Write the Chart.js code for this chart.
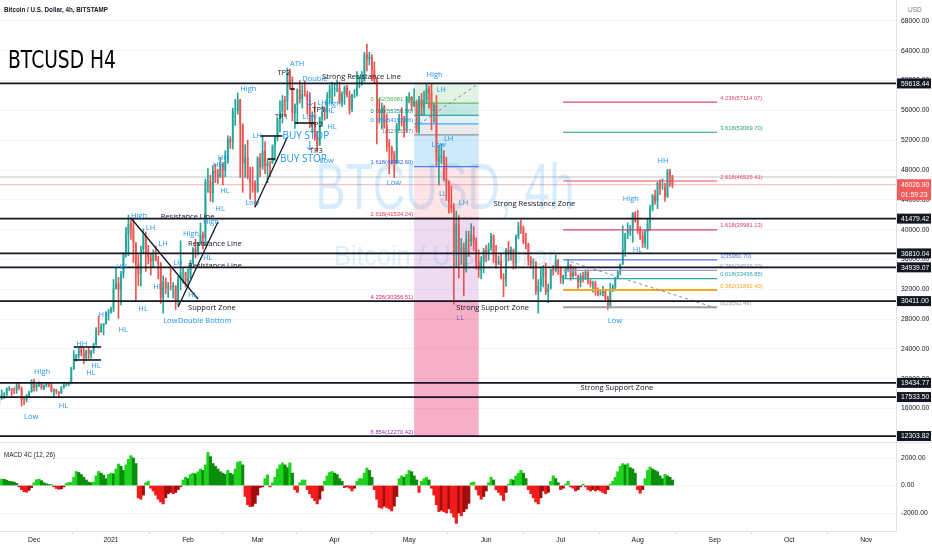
<!DOCTYPE html>
<html>
<head>
<meta charset="utf-8">
<title>BTCUSD H4</title>
<script src="https://cdn.jsdelivr.net/npm/chart.js"></script>
<style>
  html, body { margin: 0; padding: 0; background: #fff; overflow: hidden; }
  #wrap { position: relative; width: 932px; height: 550px; }
</style>
</head>
<body>
<div id="wrap"><canvas id="chart" width="932" height="550"></canvas></div>
<script>
// ---- daily candles, 2020-11-17 .. 2021-08-15 ----
const startDate = '2020-11-17';
const firstOpen = 16700;
const closes = [
  17650, 17800, 17820, 18680, 18700, 18420, 18370, 19160, 18730, 17150, 17140, 17720, 18180, 19700, // Nov
  18780, 19220, 19440, 18700, 19150, 19360, 19170, 18320, 18550, 18250, 18030, 18800, 19170, 19270, 19430, 21360,
  22800, 23130, 23860, 23480, 22750, 23820, 23250, 23720, 24660, 26440, 26250, 27030, 27360, 28840, 29000, // Dec
  29370, 32130, 32780, 31970, 33990, 36820, 39370, 40800, 40250, 38240, 35540, 34010, 37390, 39180, 36820, 36170,
  35790, 36630, 35910, 35470, 30850, 33010, 32100, 32290, 32260, 32470, 30360, 33370, 34270, 34290, 33110, // Jan
  33520, 35510, 37470, 36930, 38140, 39270, 38830, 46400, 46480, 44920, 47910, 47500, 47100, 48720,
  47950, 49170, 52150, 51680, 55890, 55920, 57410, 54090, 48890, 49680, 47070, 46340, 46190, 45140, // Feb
  49630, 48380, 50540, 48560, 48930, 48910, 51210, 52390, 54880, 55850, 57330, 57230, 61150, 59030, 55630, 56800,
  58820, 57530, 58230, 58200, 57350, 54100, 54340, 52300, 51310, 55030, 55820, 55780, 57620, 58790, 58920, // Mar
  58990, 59020, 57100, 58200, 59120, 58000, 56100, 58100, 58100, 59800, 59800, 59950, 63500, 62900, 63200,
  61400, 60000, 56200, 55700, 56500, 53800, 51700, 51100, 50100, 49100, 54000, 55000, 54800, 53500, 57700, // Apr
  57800, 56600, 57200, 53200, 57500, 56400, 57400, 58900, 58300, 55900, 56700, 49200, 49700, 49900, 46800, 46400,
  43500, 42900, 37000, 40700, 37300, 37500, 34700, 38700, 38400, 39300, 38400, 35700, 34600, 35700, 37300, // May
  36700, 37600, 39200, 36900, 35500, 35800, 33600, 33400, 37300, 36700, 37300, 35500, 39100, 40500, 40200,
  38300, 38100, 35800, 35500, 35600, 31700, 32500, 33700, 34700, 31600, 32200, 34700, 34500, 35900, 35000, // Jun
  33500, 33800, 34700, 35300, 33700, 34200, 33900, 32900, 33800, 33500, 34300, 33100, 32700, 32800, 31900, 31400,
  31500, 31800, 30800, 29800, 32100, 32300, 33600, 34300, 35400, 37300, 39400, 40000, 40000, 42200, 41500, // Jul
  39900, 39200, 38200, 39700, 40900, 42800, 44600, 43800, 46300, 45600, 45600, 44400, 47800, 47100, 46030  // Aug
];
const highs = [
  17850, 18480, 18130, 18800, 18950, 18700, 18770, 19420, 19480, 18900, 17450, 17870, 18330, 19860,
  19920, 19310, 19580, 19520, 19180, 19410, 19420, 19290, 18630, 18560, 18280, 18950, 19410, 19340, 19560, 21530,
  23770, 23270, 24150, 24290, 24100, 23840, 24100, 23800, 24770, 26850, 28400, 27390, 27400, 28990, 29300,
  29600, 33300, 34800, 33600, 34400, 36900, 40300, 41950, 41300, 41300, 38250, 36600, 37800, 40100, 39700, 37900,
  36800, 37300, 37800, 36400, 35600, 33800, 33500, 32900, 34800, 32900, 32500, 33700, 38500, 34800, 34300,
  34700, 35900, 37600, 38700, 38300, 40900, 39700, 46800, 48200, 47300, 48600, 48800, 48100, 49700,
  49000, 50600, 52600, 52500, 56300, 57500, 58350, 57500, 54200, 51400, 52000, 48400, 48400, 46600,
  49800, 50200, 52600, 51800, 49400, 49200, 51400, 52500, 54900, 57300, 58000, 57900, 61700, 61500, 60500, 56900,
  58900, 60000, 59400, 59900, 58600, 58400, 55800, 57100, 53200, 55100, 56600, 56500, 58400, 59400, 59800,
  59500, 60100, 59800, 58500, 59300, 59400, 58600, 58200, 58800, 61200, 60600, 61200, 63800, 64900, 63800,
  63500, 62500, 60400, 57500, 57000, 56700, 55500, 52100, 51200, 50500, 54300, 55500, 56400, 55200, 57900,
  58400, 57900, 58900, 57400, 57900, 58300, 58600, 59500, 59300, 59600, 57000, 58000, 51300, 51500, 50600, 49700,
  46600, 45800, 43500, 42500, 41900, 38800, 38200, 39800, 39800, 40800, 40400, 38900, 37300, 36400, 37500,
  37900, 38200, 39500, 39300, 37900, 36500, 36800, 34100, 37500, 38400, 37700, 37400, 39300, 41000, 41300,
  40500, 39500, 38200, 36400, 36100, 35700, 33300, 34800, 35200, 35500, 32700, 34700, 35200, 36600, 36000,
  35000, 33900, 35000, 35900, 35300, 35000, 35000, 33900, 34100, 34300, 34600, 34600, 33300, 33100, 33100, 32200,
  31900, 32400, 31900, 31100, 32800, 32600, 33600, 34500, 35400, 40500, 39500, 40900, 40600, 42300, 42400,
  42600, 40400, 39800, 39900, 41400, 43300, 44700, 45300, 46400, 46700, 46800, 46200, 48100, 48100, 47300
];
const lows = [
  16550, 17220, 17350, 17750, 18400, 17640, 18000, 18020, 18570, 16330, 16500, 16870, 17530, 18180,
  18330, 18340, 18930, 18580, 18520, 18900, 18900, 18200, 17650, 17940, 17570, 18010, 18720, 19000, 19050, 19290,
  21230, 22350, 22750, 23060, 22000, 22360, 22700, 22740, 23430, 24500, 25850, 26200, 25880, 27320, 27850,
  28800, 29000, 32000, 28100, 29900, 33500, 36300, 36500, 38700, 35600, 30400, 32500, 32400, 36800, 34400, 35400,
  33900, 34900, 35800, 33400, 30100, 28800, 31400, 30900, 31900, 30800, 29300, 29900, 31900, 32800, 32300,
  32300, 33400, 35400, 36200, 36600, 38100, 37400, 37900, 45000, 43800, 43700, 46300, 46200, 47000,
  46000, 47100, 48900, 50900, 50800, 54000, 55500, 47000, 45000, 47000, 46800, 44100, 45000, 43000,
  45000, 47100, 48100, 47500, 46300, 47100, 48900, 49300, 51900, 53100, 54300, 55200, 56100, 58900, 54600, 53600,
  54200, 57000, 56300, 57900, 55500, 53700, 53000, 52000, 50400, 51300, 53900, 54700, 54900, 57000, 56900,
  57900, 58500, 56900, 56500, 56800, 57800, 55500, 55800, 57700, 57900, 59000, 59400, 59900, 61300, 62100,
  60000, 59600, 51500, 54300, 53500, 53600, 50500, 47500, 48800, 47000, 48800, 53300, 53900, 52400, 53100,
  57000, 56000, 56500, 53000, 52900, 55300, 55400, 56900, 56300, 53400, 54400, 48600, 46000, 48900, 46600, 43900,
  42200, 42300, 30000, 35000, 33500, 35300, 31100, 34300, 36400, 37800, 37200, 34700, 33600, 33400, 34200,
  35700, 35900, 37200, 35600, 34800, 35300, 33400, 31000, 32400, 35800, 35900, 34700, 34800, 38800, 39500,
  38100, 37400, 35200, 34800, 33400, 31300, 28800, 31700, 32300, 31300, 30200, 32000, 33900, 34300, 34000,
  32800, 32700, 33400, 34400, 33200, 33600, 33800, 32100, 32300, 33000, 33300, 32700, 32300, 31600, 31200, 31100,
  31200, 31100, 30500, 29300, 29500, 31700, 32000, 33400, 33900, 35300, 36400, 38800, 39200, 38300, 41000,
  39500, 38700, 37600, 37600, 37400, 39900, 42500, 43400, 42800, 44700, 45400, 43800, 44300, 45800, 45600
];
// MACD 4C (12, 26), one value per day
const macdHist = [
  400, 460, 450, 380, 300, 280, 250, 150, -100, -300,
  -450, -490, -350, -150, 200, 420, 460, 350, 200, 120,
  80, 50, -100, -220, -270, -250, -100, 150, 220, 220,
  600, 1020, 950, 800, 600, 400, 250, 200, 250, 700,
  1020, 900, 750, 500, 800, 900, 850, 1200, 1560, 1400,
  1100, 1500, 1900, 2170, 2000, 1600, -900, -1000, -700, 200,
  300, -200, -400, -700, -1000, -1200, -1340, -900, -600, -500,
  -600, -500, -300, -100, 400, 600, 500, 800, 900, 850,
  1000, 1200, 1100, 1500, 2400, 2100, 1600, 1400, 1200, 1000,
  900, 800, 1100, 900, 800, 1200, 1700, 1750, 1500, -800,
  -1400, -1540, -1500, -1300, -700, -150, -100, 500, 780, -100,
  200, 600, 1200, 1500, 1640, 1500, 1300, 1640, 900, -300,
  -500, 200, 400, 400, -300, -600, -900, -1100, -1340, -1000,
  -400, 300, 700, 950, 1020, 900, 800, 500, 300, -150,
  -100, -200, -400, -200, 300, 500, 500, 900, 1270, 1100,
  600, -300, -1000, -1600, -1660, -1500, -1600, -1700, -1850, -1500,
  -800, 500, 700, 600, 800, 1100, 1000, 700, 400, -500,
  300, 500, 600, 400, -200, -700, -1400, -1900, -1800, -1900,
  -2000, -1700, -2000, -2300, -2750, -2000, -2200, -1900, -1700, -1300,
  200, 250, -300, -700, -1000, -800, -400, 200, 600, 400,
  -300, -500, -700, -1100, -500, 100, 450, 400, 700, 900,
  1100, 900, 500, -300, -600, -900, -1200, -1340, -900, -400,
  -600, -500, 300, 700, 500, 200, -300, -200, 100, 300,
  -100, -200, -400, -300, -100, 100, -100, -300, -400, -300,
  -400, -300, -400, -500, -600, -300, 100, 300, 600, 1000,
  1400, 1590, 1500, 1590, 1300, 1200, 900, -300, -560, -300,
  500, 1100, 1340, 1200, 1100, 1000, 700, 500, 800, 700,
  600, 400
];

// ---- axes ----
const monthStarts = ['2020-12-01', '2021-01-01', '2021-02-01', '2021-03-01', '2021-04-01', '2021-05-01',
                     '2021-06-01', '2021-07-01', '2021-08-01', '2021-09-01', '2021-10-01', '2021-11-01'];
const monthNames = ['Dec', '2021', 'Feb', 'Mar', 'Apr', 'May', 'Jun', 'Jul', 'Aug', 'Sep', 'Oct', 'Nov'];
const priceTicks = [16000, 20000, 24000, 28000, 32000, 36000, 40000, 44000, 48000, 52000, 56000, 60000, 64000, 68000];
const macdTicks = [-2000, 0, 2000];

// ---- drawings ----
const levels = [59618.44, 41479.42, 36810.04, 34939.07, 30411.00, 19434.77, 17533.50, 12303.82];
const lastPrice = 46026.90;
const countdown = '01:59:23';
const dayHigh = 47065;

const waveLabels = [
  ['Low', '2020-11-27', 14860], ['High', '2020-12-01', 20900], ['HL', '2020-12-11', 16330],
  ['HH', '2020-12-18', 24650], ['HL', '2020-12-22', 20760], ['HL', '2020-12-24', 21700],
  ['HH', '2020-12-27', 28550], ['HH', '2021-01-03', 34990], ['HL', '2021-01-04', 26530],
  ['High', '2021-01-09', 41830], ['LH', '2021-01-15', 40220], ['HL', '2021-01-12', 29350],
  ['HL', '2021-01-18', 32300], ['LH', '2021-01-20', 38070], ['Low', '2021-01-22', 27740],
  ['Double Bottom', '2021-01-28', 27740], ['LH', '2021-01-26', 35520], ['High', '2021-01-30', 39420],
  ['HL', '2021-02-01', 31230], ['HL', '2021-02-07', 36200], ['High', '2021-02-07', 41030],
  ['HH', '2021-02-11', 48680], ['HH', '2021-02-13', 49620], ['HL', '2021-02-12', 42770],
  ['HL', '2021-02-14', 45190], ['High', '2021-02-22', 58870], ['Low', '2021-02-24', 43580],
  ['LH', '2021-02-27', 52570], ['ATH', '2021-03-14', 62230], ['Double', '2021-03-19', 60220],
  ['Low', '2021-03-19', 55120], ['LH', '2021-03-25', 57000], ['High', '2021-03-28', 56860],
  ['HL', '2021-03-28', 55920], ['HL', '2021-03-29', 53780], ['Low', '2021-03-26', 49210],
  ['Low', '2021-04-22', 46260], ['High', '2021-05-08', 60750], ['LH', '2021-05-12', 58740],
  ['Low', '2021-05-10', 51360], ['LH', '2021-05-15', 52160], ['LL', '2021-05-13', 44780],
  ['LH', '2021-05-21', 43580], ['High', '2021-07-26', 44110], ['HL', '2021-07-30', 37270],
  ['Low', '2021-07-20', 27740], ['HH', '2021-08-09', 49210]
];
const purpleLabels = [['LL', '2021-05-20', 28140]];
const notes = [
  ['Strong Resistance Line', '2021-03-27', 60490], ['Resistance Line', '2021-01-21', 41700],
  ['Resistance Line', '2021-02-01', 38070], ['Resistance Line', '2021-02-01', 35120],
  ['Support Zone', '2021-02-01', 29480], ['Strong Resistance Zone', '2021-06-04', 43440],
  ['Strong Support Zone', '2021-05-20', 29480], ['Strong Support Zone', '2021-07-09', 18750],
  ['TP2', '2021-03-09', 61020], ['TP1', '2021-03-08', 55120], ['TP1', '2021-03-23', 56060],
  ['TP2', '2021-03-22', 54040], ['TP3', '2021-03-22', 50550]
];
const buyStops = [['BUY STOP', '2021-03-11', 52570], ['BUY STOP', '2021-03-10', 49480]];
const segments = [
  ['2021-03-02', '2021-03-11', 52570], ['2021-03-05', '2021-03-08', 49480],
  ['2021-03-16', '2021-03-24', 54310], ['2021-03-14', '2021-03-16', 58870],
  ['2020-12-17', '2020-12-28', 24250], ['2020-12-17', '2020-12-28', 22510]
];
const trendLines = [
  [['2021-01-09', 41560], ['2021-02-05', 30690]],
  [['2021-01-28', 29620], ['2021-02-13', 41030]],
  [['2021-02-28', 43040], ['2021-03-13', 52430]]
];
const arrows = [['2021-03-22', 58340, 56590], ['2021-03-22', 51900, 50690]];

const fibAFrom = '2021-05-03', fibATo = '2021-05-29', fibATop = 59618.44;
const fibARatios = ['0.382', '0.618', '0.786', '1', '1.618', '2.618', '4.236', '6.854'];
const fibAPrices = [56981.34, 55350.56, 54192.86, 52715.37, 48442.60, 41534.24, 30356.51, 12270.42];
const fibATrend = [['2021-05-03', 53700], ['2021-05-29', 59620]];

const fibBFrom = '2021-07-02', fibBTo = '2021-09-02';
const fibBRatios = ['4.236', '3.618', '2.618', '1.618', '1', '0.786', '0.618', '0.382', '0'];
const fibBPrices = [57114.07, 53069.70, 46525.41, 39981.13, 35950.70, 34526.20, 33436.85, 31892.40, 29592.48];
const fibBTrend = [['2021-07-05', 35700], ['2021-09-01', 29530]];

// ---- styles ----
const SANS = '"Liberation Sans", Arial, sans-serif';
const LBL = '"Open Sans", "Liberation Sans", sans-serif';
const INK = '#131722';
const BLUE = '#2196f3';
const GRID = '#f3f5f9';
const fibALineColors = ['#4caf50', '#089981', '#2196f3', '#787b86', '#2962ff', '#f23645', '#e91e63', '#9c27b0'];
const fibAZoneColors = ['rgba(76,175,80,0.16)', 'rgba(8,153,129,0.24)', 'rgba(33,150,243,0.14)', 'rgba(120,123,134,0.16)',
                        'rgba(33,150,243,0.22)', 'rgba(242,54,69,0.13)', 'rgba(156,39,176,0.17)', 'rgba(233,30,99,0.36)'];
const fibBColors = ['#e0476b', '#1e9e7c', '#f04a55', '#d6416b', '#4f74e3', '#a597cc', '#2ba3b0', '#f5a623', '#9e9e9e'];

const dayOf = s => (Date.parse(s) - Date.parse('2020-12-01')) / 864e5;
const day0 = dayOf(startDate);
const days = closes.map((_, i) => day0 + i);
const opens = closes.map((c, i) => i ? closes[i - 1] : firstOpen);
const candleCol = closes.map((c, i) => c >= opens[i] ? '#26a69a' : '#ef5350');
const macdCol = macdHist.map((v, i) => {
  const p = i ? macdHist[i - 1] : v;
  return v >= 0 ? (v >= p ? '#1fd41f' : '#0c8c0c') : (v < p ? '#f21b1b' : '#a30d0d');
});

function text(ctx, s, px, py, font, color, align = 'left', baseline = 'middle', fitW) {
  ctx.save();
  ctx.font = font; ctx.fillStyle = color; ctx.textAlign = align; ctx.textBaseline = baseline;
  if (fitW) {
    const k = fitW / ctx.measureText(s).width;
    ctx.translate(px, py); ctx.scale(k, 1); ctx.fillText(s, 0, 0);
  } else {
    ctx.fillText(s, px, py);
  }
  ctx.restore();
}
function line(ctx, x1, y1, x2, y2, color, w, dash) {
  ctx.save();
  ctx.strokeStyle = color; ctx.lineWidth = w; ctx.setLineDash(dash || []);
  ctx.beginPath(); ctx.moveTo(x1, y1); ctx.lineTo(x2, y2); ctx.stroke();
  ctx.restore();
}

const overlay = {
  id: 'overlay',
  beforeDatasetsDraw(chart) {
    const { ctx, chartArea: a, scales: { x, y } } = chart;
    const X = d => x.getPixelForValue(dayOf(d)), Y = p => y.getPixelForValue(p);
    ctx.save();
    ctx.beginPath(); ctx.rect(a.left, a.top, a.right - a.left, y.bottom - a.top); ctx.clip();
    const cx = (a.left + a.right) / 2 - 3;
    text(ctx, 'BTCUSD, 4h', cx, 191, '64px ' + SANS, 'rgba(33,150,243,0.18)', 'center', 'middle', 259);
    text(ctx, 'Bitcoin / U.S. Dollar', cx, 257, '28px ' + SANS, 'rgba(33,150,243,0.15)', 'center', 'middle', 222);
    // fib retracement box (May drop)
    const l = X(fibAFrom), r = X(fibATo);
    let prev = fibATop;
    fibAPrices.forEach((p, i) => {
      ctx.fillStyle = fibAZoneColors[i];
      ctx.fillRect(l, Y(prev), r - l, Y(p) - Y(prev));
      prev = p;
    });
    ctx.restore();
  },
  afterDatasetsDraw(chart) {
    const { ctx, chartArea: a, scales: { x, y } } = chart;
    const X = d => x.getPixelForValue(dayOf(d)), Y = p => y.getPixelForValue(p);
    ctx.save();
    ctx.beginPath(); ctx.rect(a.left, a.top, a.right - a.left, y.bottom - a.top); ctx.clip();

    line(ctx, a.left, Y(dayHigh), a.right, Y(dayHigh), 'rgba(120,123,134,0.45)', 1);
    line(ctx, a.left, Y(lastPrice), a.right, Y(lastPrice), 'rgba(239,83,80,0.45)', 1);

    // fib A
    const al = X(fibAFrom), ar = X(fibATo);
    fibAPrices.forEach((p, i) => {
      line(ctx, al, Y(p), ar, Y(p), fibALineColors[i], 1);
      text(ctx, fibARatios[i] + '(' + p.toFixed(2) + ')', al - 1, Y(p) - 1, '5.8px ' + SANS, fibALineColors[i], 'right', 'bottom');
    });
    line(ctx, X(fibATrend[0][0]), Y(fibATrend[0][1]), X(fibATrend[1][0]), Y(fibATrend[1][1]), 'rgba(120,123,134,0.85)', 1, [3, 3]);

    // fib B
    const bl = X(fibBFrom), br = X(fibBTo);
    fibBPrices.forEach((p, i) => {
      const w = fibBRatios[i] === '0.382' || fibBRatios[i] === '0' ? 2 : 1.2;
      line(ctx, bl, Y(p), br, Y(p), fibBColors[i], w);
      text(ctx, fibBRatios[i] + '(' + p.toFixed(2) + ')', br + 3, Y(p) - 1, '5.8px ' + SANS, fibBColors[i], 'left', 'bottom');
    });
    line(ctx, X(fibBTrend[0][0]), Y(fibBTrend[0][1]), X(fibBTrend[1][0]), Y(fibBTrend[1][1]), 'rgba(120,123,134,0.85)', 1, [3, 3]);

    // support / resistance levels
    levels.forEach(p => line(ctx, a.left, Y(p), a.right, Y(p), INK, 1.7));

    segments.forEach(([d1, d2, p]) => line(ctx, X(d1), Y(p), X(d2), Y(p), INK, 1.6));
    trendLines.forEach(([[d1, p1], [d2, p2]]) => line(ctx, X(d1), Y(p1), X(d2), Y(p2), INK, 1.3));
    arrows.forEach(([d, p1, p2]) => {
      const ax = X(d), y1 = Y(p1), y2 = Y(p2);
      line(ctx, ax, y1, ax, y2, BLUE, 1);
      line(ctx, ax - 3, y2 - 3, ax, y2, BLUE, 1);
      line(ctx, ax + 3, y2 - 3, ax, y2, BLUE, 1);
    });

    waveLabels.forEach(([s, d, p]) => text(ctx, s, X(d), Y(p), '7.5px ' + LBL, BLUE));
    purpleLabels.forEach(([s, d, p]) => text(ctx, s, X(d), Y(p), '7.5px ' + LBL, '#7e57c2'));
    notes.forEach(([s, d, p]) => text(ctx, s, X(d), Y(p), '7.5px ' + LBL, INK));
    buyStops.forEach(([s, d, p]) => text(ctx, s, X(d), Y(p), '10px ' + LBL, BLUE));

    text(ctx, 'BTCUSD H4', 8, 61, '25px "DejaVu Sans", ' + SANS, '#000', 'left', 'middle', 108);
    ctx.restore();
  },
  afterDraw(chart) {
    const { ctx, chartArea: a, scales: { y, y2 } } = chart;
    const Y = p => y.getPixelForValue(p);
    const W = chart.width;
    line(ctx, 0, y.bottom + 0.5, W, y.bottom + 0.5, '#e0e3eb', 1);

    // price-scale labels of the drawn levels
    levels.forEach(p => {
      const py = Y(p);
      ctx.fillStyle = INK;
      ctx.fillRect(a.right + 1, py - 5, W - a.right - 2, 10);
      text(ctx, p.toFixed(2), a.right + 5, py + 0.5, '6.8px ' + SANS, '#fff');
    });
    const lp = Y(lastPrice);
    ctx.fillStyle = '#f05b5b';
    ctx.fillRect(a.right + 1, lp - 5.5, W - a.right - 2, 21);
    text(ctx, lastPrice.toFixed(2), a.right + 5, lp + 0.5, '6.8px ' + SANS, '#fff');
    text(ctx, countdown, a.right + 5, lp + 10, '6.8px ' + SANS, '#fff');

    text(ctx, 'Bitcoin / U.S. Dollar, 4h, BITSTAMP', 4, 10, 'bold 7.5px ' + SANS, INK, 'left', 'middle', 104);
    text(ctx, 'USD', 908, 10, '6.5px ' + SANS, '#787b86');
    text(ctx, 'MACD 4C (12, 26)', 4, y2.top + 13, '7px ' + SANS, INK, 'left', 'middle', 51);
  }
};

const tickFont = { family: SANS, size: 6.8 };
new Chart(document.getElementById('chart'), {
  type: 'bar',
  data: {
    datasets: [
      { label: 'wick', data: days.map((d, i) => ({ x: d, y: [lows[i], highs[i]] })), backgroundColor: candleCol,
        barThickness: 1, grouped: false, yAxisID: 'y', order: 2 },
      { label: 'BTCUSD', data: days.map((d, i) => ({ x: d, y: [opens[i], closes[i]] })), backgroundColor: candleCol,
        barPercentage: 0.8, categoryPercentage: 0.9, grouped: false, yAxisID: 'y', order: 1 },
      { label: 'MACD 4C (12, 26)', data: days.map((d, i) => ({ x: d, y: macdHist[i] })), backgroundColor: macdCol,
        barPercentage: 1, categoryPercentage: 1, grouped: false, yAxisID: 'y2', order: 3 }
    ]
  },
  options: {
    responsive: false,
    animation: false,
    layout: { padding: 0 },
    plugins: { legend: { display: false }, tooltip: { enabled: false } },
    scales: {
      x: {
        type: 'linear', min: -13.7, max: 347.0, offset: false,
        grid: { color: '#d6d9e0', drawOnChartArea: false, drawTicks: true, tickLength: 3 },
        border: { color: '#e0e3eb' },
        ticks: { font: tickFont, color: INK, padding: 2, maxRotation: 0, autoSkip: false,
                 callback: (v, i) => monthNames[i] },
        afterBuildTicks: s => { s.ticks = monthStarts.map(m => ({ value: dayOf(m) })); },
        afterFit: s => { s.height = 19; s.paddingLeft = 0; s.paddingRight = 0; }
      },
      y: {
        position: 'right', stack: 'pane', stackWeight: 442, min: 11502, max: 70818,
        grid: { color: GRID, drawTicks: false },
        border: { color: '#e0e3eb' },
        ticks: { font: tickFont, color: INK, padding: 5, callback: v => v.toFixed(2) },
        afterBuildTicks: s => { s.ticks = priceTicks.map(v => ({ value: v })); },
        afterFit: s => { s.width = 36; s.paddingTop = 0; s.paddingBottom = 0; }
      },
      y2: {
        position: 'right', stack: 'pane', stackWeight: 89, min: -3309, max: 3164,
        grid: { color: GRID, drawTicks: false },
        border: { color: '#e0e3eb' },
        ticks: { font: tickFont, color: INK, padding: 5, callback: v => v.toFixed(2) },
        afterBuildTicks: s => { s.ticks = macdTicks.map(v => ({ value: v })); },
        afterFit: s => { s.width = 36; s.paddingTop = 0; s.paddingBottom = 0; }
      }
    }
  },
  plugins: [overlay]
});
</script>
</body>
</html>
